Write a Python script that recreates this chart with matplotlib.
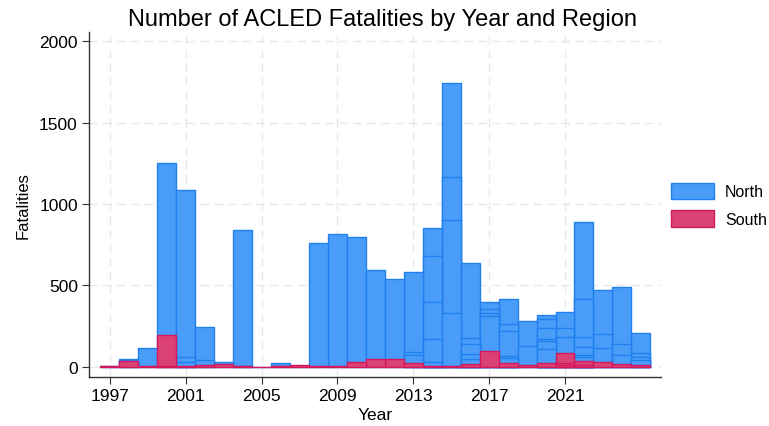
import matplotlib
matplotlib.use("Agg")
import matplotlib.pyplot as plt
from matplotlib.patches import Patch

plt.rcParams['font.family'] = ['Liberation Sans', 'DejaVu Sans']

years = list(range(1997, 2026))
north = [5, 49, 115, 1250, 1087, 245, 29, 838, 2, 23, 5, 758, 813, 795, 595,
         539, 584, 852, 1745, 640, 400, 417, 284, 317, 339, 891, 474, 488, 208]
south = [5, 35, 3, 196, 8, 12, 18, 5, 0, 4, 14, 4, 5, 29, 47,
         51, 25, 8, 5, 18, 100, 22, 14, 25, 86, 37, 33, 20, 14]

# cumulative sub-totals inside the bars (the thin outlines)
north_inner = {1998: [40], 2001: [61, 32], 2002: [41], 2004: [8], 2013: [90, 74],
               2014: [679, 397, 170, 33], 2015: [1163, 903, 331],
               2016: [176, 141, 78, 49], 2017: [356, 333, 311],
               2018: [262, 221, 69, 53], 2019: [131],
               2020: [292, 237, 170, 159, 110], 2021: [237, 182],
               2022: [417, 182, 121, 74, 59], 2023: [202, 115],
               2024: [141, 74], 2025: [84, 63, 45]}
south_inner = {2000: [8], 2021: [22, 10], 2022: [15]}

blue, blue_edge = '#4a9cf9', '#2080ee'
pink, pink_edge = '#da4273', '#d3195c'


def levels(vals, inner):
    xs, hs = [], []
    for y, v in zip(years, vals):
        for h in [v] + inner.get(y, []):
            xs.append(y)
            hs.append(h)
    order = sorted(range(len(hs)), key=lambda i: -hs[i])
    return [xs[i] for i in order], [hs[i] for i in order]


fig = plt.figure(figsize=(7.69, 4.27), dpi=100)
ax = fig.add_axes([0.1157, 0.115, 0.7438, 0.807])

nx, nh = levels(north, north_inner)
ax.bar(nx, nh, width=1, color=blue, edgecolor=blue_edge, linewidth=1.0, zorder=2)
sx, sh = levels(south, south_inner)
ax.bar(sx, sh, width=1, color=pink, edgecolor=pink_edge, linewidth=1.0, zorder=3)

ax.set_xlim(1995.9, 2026.06)
ax.set_ylim(-61, 2054)
ax.set_xticks([1997, 2001, 2005, 2009, 2013, 2017, 2021])
ax.set_yticks([0, 500, 1000, 1500, 2000])
ax.grid(True, color='#e8e8e8', linestyle=(0, (6, 4)), linewidth=1.0, zorder=0)
ax.set_axisbelow(True)
for s in ['top', 'right']:
    ax.spines[s].set_visible(False)
for s in ['left', 'bottom']:
    ax.spines[s].set_color('#333333')
    ax.spines[s].set_linewidth(1.0)
ax.tick_params(labelsize=12.5, length=5, color='#333333', pad=3)
ax.set_xlabel('Year', fontsize=12.5, labelpad=3)
ax.set_ylabel('Fatalities', fontsize=12, labelpad=6)
fig.text(0.497, 0.953, 'Number of ACLED Fatalities by Year and Region',
         fontsize=17, ha='center', va='center')

handles = [Patch(facecolor=blue, edgecolor=blue_edge, label='North'),
           Patch(facecolor=pink, edgecolor=pink_edge, label='South')]
fig.legend(handles=handles, loc='center left', bbox_to_anchor=(0.872, 0.518),
           frameon=False, fontsize=11.5, handlelength=2.7, handleheight=1.2,
           labelspacing=0.7, handletextpad=0.7, borderpad=0, borderaxespad=0)

fig.savefig('out.png', dpi=100)
